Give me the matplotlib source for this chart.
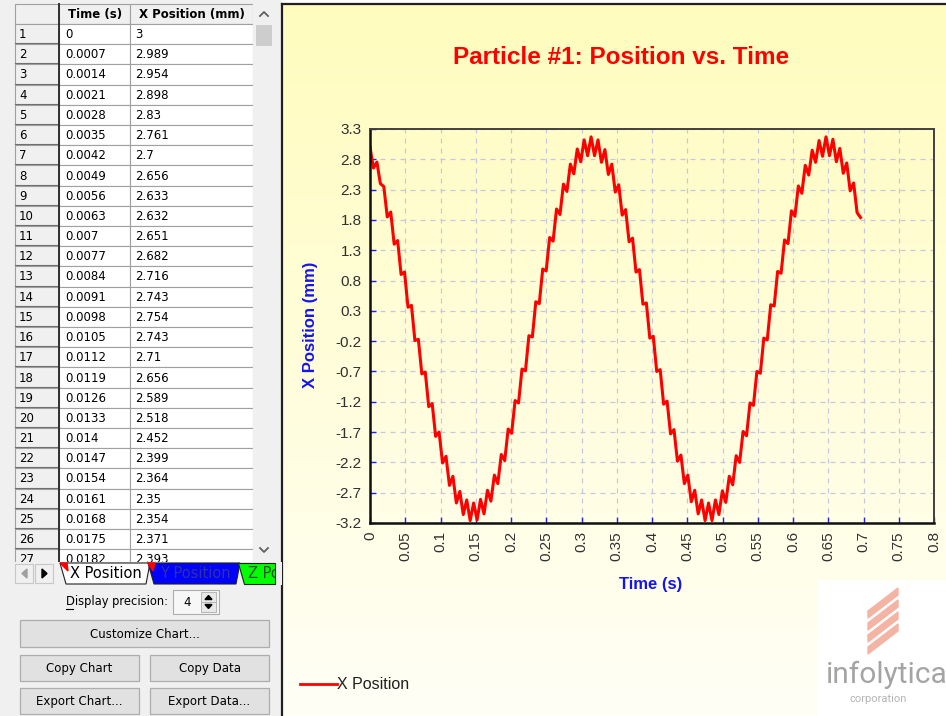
import numpy as np
import matplotlib
matplotlib.use("Agg")
import matplotlib.pyplot as plt
from matplotlib.patches import Rectangle, Polygon

plt.rcParams['font.family'] = ['Liberation Sans', 'DejaVu Sans']

# rows visible in the data grid on the left
row_time = ["0", "0.0007", "0.0014", "0.0021", "0.0028", "0.0035", "0.0042",
            "0.0049", "0.0056", "0.0063", "0.007", "0.0077", "0.0084", "0.0091",
            "0.0098", "0.0105", "0.0112", "0.0119", "0.0126", "0.0133", "0.014",
            "0.0147", "0.0154", "0.0161", "0.0168", "0.0175", "0.0182"]
row_xpos = ["3", "2.989", "2.954", "2.898", "2.83", "2.761", "2.7", "2.656",
            "2.633", "2.632", "2.651", "2.682", "2.716", "2.743", "2.754", "2.743",
            "2.71", "2.656", "2.589", "2.518", "2.452", "2.399", "2.364", "2.35",
            "2.354", "2.371", "2.393"]

# x position (mm), one value every 0.0049 s
sample_dt = 0.0049
x_position = [
    3.0, 2.656, 2.754, 2.399, 2.35, 1.85, 1.93, 1.40, 1.46, 0.90,
    0.94, 0.36, 0.39, -0.19, -0.17, -0.74, -0.71, -1.28, -1.23, -1.77,
    -1.70, -2.21, -2.10, -2.58, -2.43, -2.87, -2.68, -3.06, -2.82, -3.16,
    -2.87, -3.15, -2.81, -3.05, -2.66, -2.84, -2.41, -2.55, -2.07, -2.17,
    -1.65, -1.72, -1.18, -1.22, -0.66, -0.69, -0.11, -0.13, 0.45, 0.42,
    0.99, 0.96, 1.51, 1.45, 1.98, 1.89, 2.39, 2.27, 2.72, 2.56,
    2.97, 2.76, 3.12, 2.86, 3.17, 2.86, 3.12, 2.75, 2.96, 2.55,
    2.72, 2.26, 2.38, 1.88, 1.97, 1.44, 1.50, 0.94, 0.98, 0.41,
    0.43, -0.15, -0.12, -0.70, -0.67, -1.24, -1.19, -1.73, -1.66, -2.18,
    -2.08, -2.55, -2.41, -2.85, -2.66, -3.05, -2.82, -3.16, -2.87, -3.16,
    -2.82, -3.06, -2.67, -2.86, -2.43, -2.57, -2.09, -2.20, -1.69, -1.76,
    -1.22, -1.26, -0.70, -0.73, -0.15, -0.18, 0.40, 0.38, 0.95, 0.92,
    1.47, 1.41, 1.95, 1.86, 2.36, 2.24, 2.70, 2.54, 2.95, 2.75,
    3.11, 2.85, 3.17, 2.86, 3.13, 2.76, 2.98, 2.57, 2.74, 2.28,
    2.41, 1.92, 1.84]
time_s = np.arange(len(x_position)) * sample_dt

x_ticks = [0, 0.05, 0.1, 0.15, 0.2, 0.25, 0.3, 0.35, 0.4, 0.45, 0.5, 0.55,
           0.6, 0.65, 0.7, 0.75, 0.8]
x_tick_labels = ["0", "0.05", "0.1", "0.15", "0.2", "0.25", "0.3", "0.35", "0.4",
                 "0.45", "0.5", "0.55", "0.6", "0.65", "0.7", "0.75", "0.8"]
y_ticks = [3.3, 2.8, 2.3, 1.8, 1.3, 0.8, 0.3, -0.2, -0.7, -1.2, -1.7, -2.2,
           -2.7, -3.2]
y_tick_labels = ["3.3", "2.8", "2.3", "1.8", "1.3", "0.8", "0.3", "-0.2", "-0.7",
                 "-1.2", "-1.7", "-2.2", "-2.7", "-3.2"]

W, H = 946, 716
fig = plt.figure(figsize=(W / 100, H / 100), dpi=100)

# whole window drawn in pixel coordinates
ui = fig.add_axes([0, 0, 1, 1])
ui.axis('off')


def box(x0, y0, x1, y1, fc, ec='none', lw=0.0, z=1):
    ui.add_patch(Rectangle((x0, y0), x1 - x0, y1 - y0, facecolor=fc,
                           edgecolor=ec, linewidth=lw, zorder=z))


UI_FONT = 'DejaVu Sans'

# left panel
box(0, 0, 282, H, '#F0F0F0', z=0)

# grid header
box(15, 4, 59, 24, '#F0F0F0', ec='#A0A0A0', lw=0.8)
box(59, 4, 130, 24, '#F0F0F0', ec='#A0A0A0', lw=0.8)
box(130, 4, 253, 24, '#F0F0F0', ec='#A0A0A0', lw=0.8)
ui.text(95, 14.5, "Time (s)", ha='center', va='center', fontsize=8.5,
        fontweight='bold', family=UI_FONT, zorder=2)
ui.text(192, 14.5, "X Position (mm)", ha='center', va='center', fontsize=8.5,
        fontweight='bold', family=UI_FONT, zorder=2)

row_h = 20.2
for i in range(len(row_time)):
    y0 = 24 + i * row_h
    y1 = y0 + row_h
    box(15, y0, 59, y1, '#F0F0F0', ec='#A0A0A0', lw=0.8)
    ui.plot([15, 58], [y1 - 1, y1 - 1], color='#707070', lw=0.8, zorder=1.5)
    box(59, y0, 130, y1, 'white', ec='#A0A0A0', lw=0.8)
    box(130, y0, 253, y1, 'white', ec='#A0A0A0', lw=0.8)
    yc = (y0 + y1) / 2 + 0.5
    ui.text(19, yc, str(i + 1), va='center', fontsize=8.5, family=UI_FONT, zorder=2)
    ui.text(65, yc, row_time[i], va='center', fontsize=8.5, family=UI_FONT, zorder=2)
    ui.text(135, yc, row_xpos[i], va='center', fontsize=8.5, family=UI_FONT, zorder=2)
ui.plot([58.5, 58.5], [4, 562], color='#303030', lw=1.4, zorder=1.6)

# scrollbar
box(253, 4, 274, 562, '#F0F0F0', z=1)
box(256, 25, 272, 46, '#CDCDCD', z=1.2)
ui.plot([260, 264, 268], [16, 12, 16], color='#606060', lw=1.3, zorder=1.3)
ui.plot([260, 264, 268], [548, 552, 548], color='#606060', lw=1.3, zorder=1.3)

# sheet tabs
box(0, 562, 282, 585, '#F0F0F0', z=3)
box(15, 564, 33, 583, '#F0F0F0', ec='#C8C8C8', lw=0.8, z=3.1)
box(35, 564, 53, 583, '#F0F0F0', ec='#C8C8C8', lw=0.8, z=3.1)
ui.add_patch(Polygon([(27, 569), (27, 578), (22, 573.5)], color='#A0A0A0', zorder=3.2))
ui.add_patch(Polygon([(42, 569), (42, 578), (47, 573.5)], color='black', zorder=3.2))

ui.add_patch(Polygon([(60, 563), (150, 563), (146, 584), (66, 584)],
                     facecolor='white', edgecolor='#202020', lw=0.8, zorder=3.3))
ui.add_patch(Polygon([(60, 563), (67, 563), (68, 571)], color='#FF0000', zorder=3.4))
ui.text(70, 573.5, "X Position", va='center', fontsize=10.5, family=UI_FONT,
        color='black', zorder=3.5)

ui.add_patch(Polygon([(148, 563), (240, 563), (236, 584), (154, 584)],
                     facecolor='#0000FF', edgecolor='#202020', lw=0.8, zorder=3.3))
ui.add_patch(Polygon([(148, 563), (155, 563), (153, 571)], color='#FF0000', zorder=3.4))
ui.text(160, 573.5, "Y Position", va='center', fontsize=10.5, family=UI_FONT,
        color='#3030A0', zorder=3.5)

ui.add_patch(Polygon([(238, 563), (275, 563), (275, 584), (244, 584)],
                     facecolor='#00FF00', edgecolor='#202020', lw=0.8, zorder=3.3))
zt = ui.text(248, 573.5, "Z Position", va='center', fontsize=10.5, family=UI_FONT,
             color='#205020', zorder=3.5, clip_on=True)
zt.set_clip_path(Rectangle((238, 560), 37, 30, transform=ui.transData))

# display precision + buttons
ui.text(66, 602, "Display precision:", va='center', fontsize=8.3, family=UI_FONT, zorder=2)
ui.plot([66, 73], [609, 609], color='black', lw=0.8, zorder=2)
box(173, 590, 219, 614, '#F7F7F7', ec='#ADADAD', lw=0.8)
ui.text(183, 602, "4", va='center', fontsize=8.5, family=UI_FONT, zorder=2)
box(201, 592, 216, 612, '#E8E8E8', ec='#ADADAD', lw=0.6, z=1.5)
ui.plot([201, 216], [602, 602], color='#ADADAD', lw=0.6, zorder=1.6)
ui.add_patch(Polygon([(205, 599.5), (212, 599.5), (208.5, 595.5)], color='black', zorder=2))
ui.add_patch(Polygon([(205, 604.5), (212, 604.5), (208.5, 608.5)], color='black', zorder=2))


def button(x0, y0, x1, y1, label):
    box(x0, y0, x1, y1, '#E1E1E1', ec='#ADADAD', lw=0.9)
    ui.text((x0 + x1) / 2, (y0 + y1) / 2 + 0.5, label, ha='center', va='center',
            fontsize=8.5, family=UI_FONT, zorder=2)


button(20, 620, 269, 647, "Customize Chart...")
button(20, 655, 139, 681, "Copy Chart")
button(150, 655, 269, 681, "Copy Data")
button(20, 688, 139, 714, "Export Chart...")
button(150, 688, 269, 714, "Export Data...")

# chart panel background
grad = np.linspace(0, 1, 256)[:, None, None]
top_col = np.array([255, 252, 190]) / 255
bot_col = np.array([255, 255, 246]) / 255
img = top_col * (1 - grad) + bot_col * grad
ui.imshow(img, extent=(282, W, H, 4), aspect='auto', zorder=0.5)
ui.plot([282, 282], [4, H], color='#202020', lw=1.6, zorder=1)
ui.plot([282, W], [4, 4], color='#202020', lw=1.6, zorder=1)

# logo
box(818, 580, W, H, '#FFFFFF', z=1)
for i in range(4):
    yb = 611 + i * 12
    ui.add_patch(Polygon([(868, yb), (898, yb - 23), (898, yb - 16), (868, yb + 7)],
                         color='#F4B4A4', zorder=1.2))
ui.text(826, 683, "infolytica", fontsize=21.5, family=['Roboto', 'DejaVu Sans'],
        color='#A4A4A4', va='baseline', zorder=1.3)
ui.text(878, 699, "corporation", fontsize=8, family=['Roboto', 'DejaVu Sans'],
        color='#B4B4B4', ha='center', va='center', zorder=1.3)

# titles and legend
ui.text(621.5, 57, "Particle #1: Position vs. Time", ha='center', va='center',
        fontsize=17.5, fontweight='bold', color='#FF0000', zorder=2)
ui.text(651, 585, "Time (s)", ha='center', va='center', fontsize=12,
        fontweight='bold', color='#1414F0', zorder=2)
ui.text(310, 325, "X Position (mm)", ha='center', va='center', rotation=90,
        fontsize=12, fontweight='bold', color='#1414F0', zorder=2)
ui.plot([300, 337], [684, 684], color='#FF0000', lw=2, zorder=2)
ui.text(337, 684.5, "X Position", va='center', fontsize=11.5, color='#202020', zorder=2)

ui.set_xlim(0, W)
ui.set_ylim(H, 0)

# the chart itself
ax = fig.add_axes([370 / W, (H - 523) / H, 564 / W, 394 / H])
ax.set_facecolor('none')
ax.plot(time_s, x_position, color='#FF0000', lw=2.2)
ax.set_xlim(0, 0.8)
ax.set_ylim(-3.2, 3.3)
ax.set_xticks(x_ticks)
ax.set_xticklabels(x_tick_labels, rotation=90)
ax.set_yticks(y_ticks)
ax.set_yticklabels(y_tick_labels)
ax.tick_params(direction='in', length=4, width=1, color='#2020FF',
               labelsize=11, labelcolor='#303030', pad=6)
ax.grid(True, ls=(0, (4, 4)), color='#C8C8DC', lw=0.9)
for side in ['left', 'bottom']:
    ax.spines[side].set_color('#101010')
    ax.spines[side].set_linewidth(1.8)
for side in ['top', 'right']:
    ax.spines[side].set_color('#404040')
    ax.spines[side].set_linewidth(1.4)

fig.savefig('out.png', dpi=100)
